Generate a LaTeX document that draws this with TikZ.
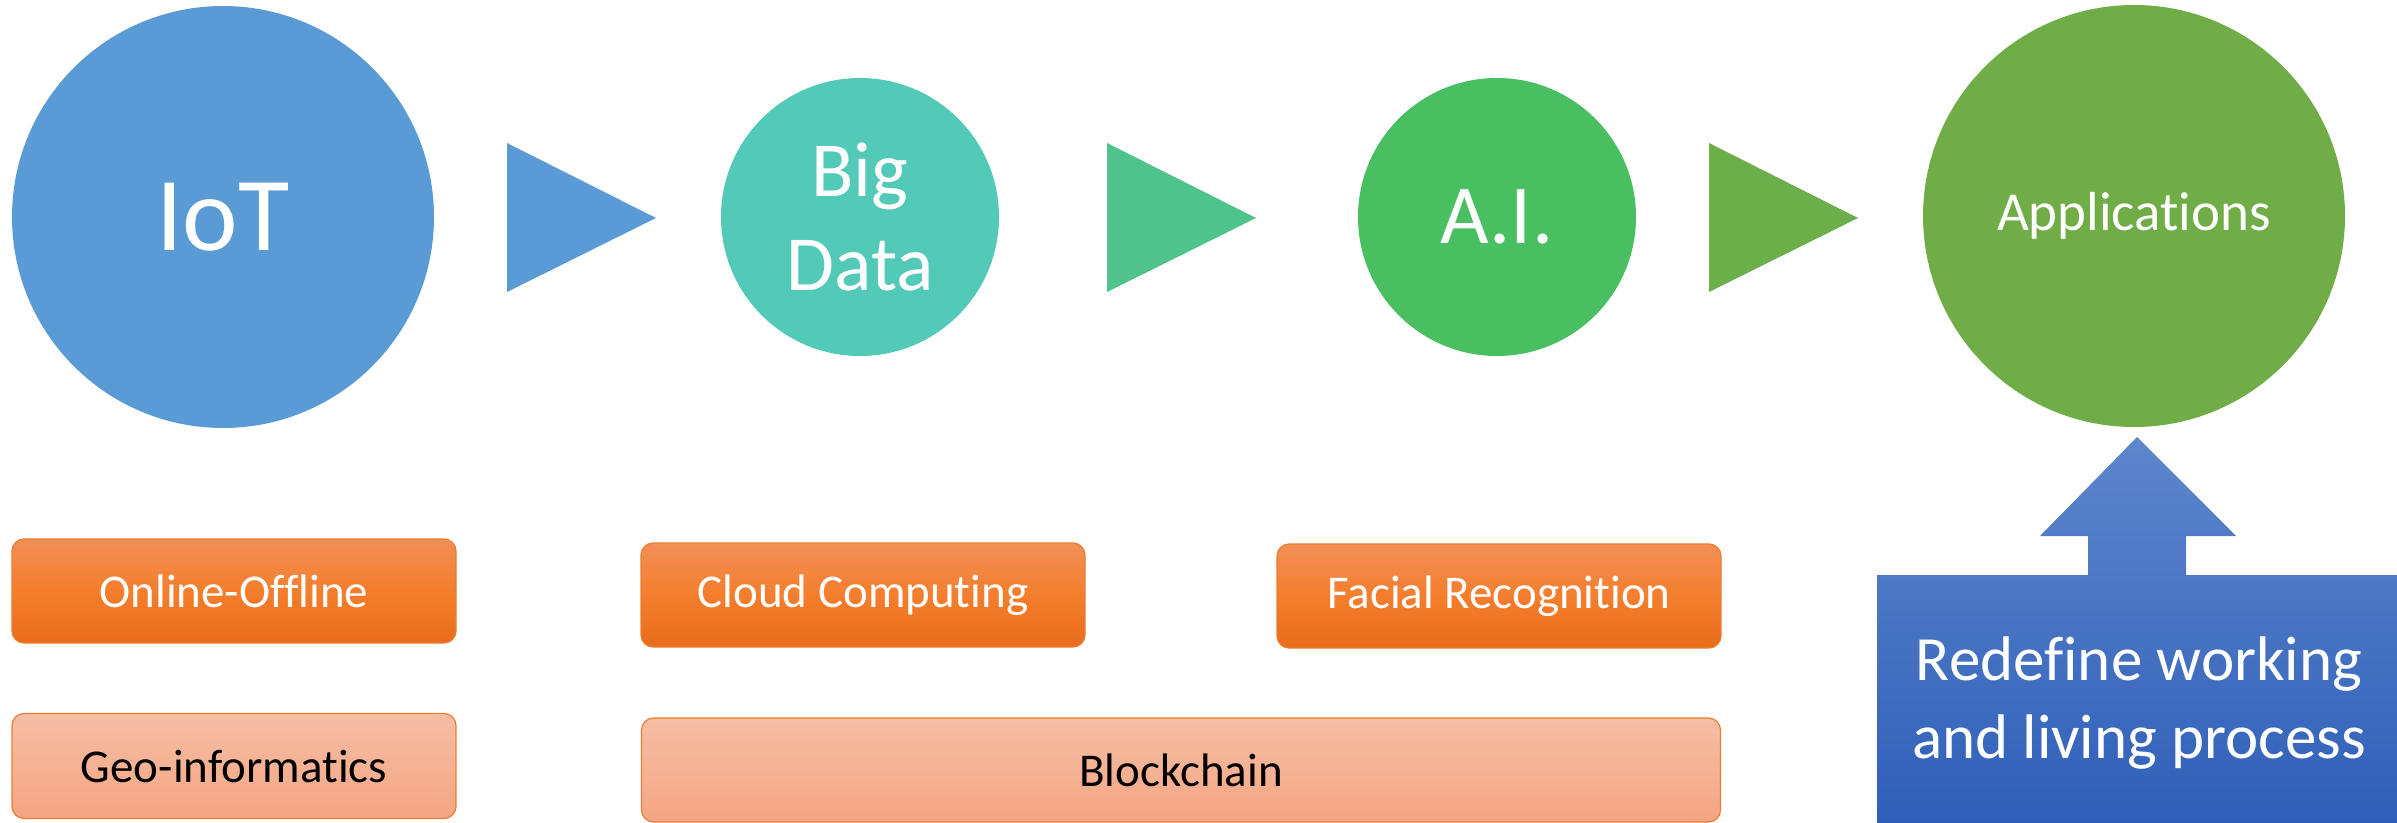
\documentclass[tikz,border=0pt]{standalone}
\usepackage{fontspec}
\setmainfont{Carlito}[Ligatures=NoCommon]
\usepackage{tikz}
\usetikzlibrary{positioning}
\definecolor{iotblue}{HTML}{5B9BD5}
\definecolor{bdteal}{HTML}{53C9B7}
\definecolor{aigreen}{HTML}{49BF62}
\definecolor{appgreen}{HTML}{70AD47}
\definecolor{tritwo}{HTML}{4FC38B}
\definecolor{trithree}{HTML}{6CAE4A}
\definecolor{boxedge}{HTML}{ED7D31}
\definecolor{orgtop}{HTML}{F18F56}
\definecolor{orgmid}{HTML}{F47E2D}
\definecolor{orgbot}{HTML}{E86C1C}
\definecolor{pchtop}{HTML}{F6BEA4}
\definecolor{pchbot}{HTML}{F4A583}
\definecolor{calltop}{HTML}{5E86CC}
\definecolor{callbot}{HTML}{2F5FB8}

\begin{document}
\begin{tikzpicture}[line cap=round,line join=round,x=0.5pt,y=-0.5pt,
    stage/.style={circle,inner sep=0pt,text=white,align=center},
    techbox/.style={rectangle,rounded corners=6pt,draw=boxedge,line width=0.6pt,
      minimum width=222pt,minimum height=52pt,inner sep=0pt,
      font=\fontsize{23.5}{28}\selectfont},
    darkbox/.style={techbox,top color=orgtop,bottom color=orgbot,middle color=orgmid,text=white},
    palebox/.style={techbox,top color=pchtop,bottom color=pchbot,text=black}]
      \useasboundingbox (0,0) rectangle (2397,823);
      % stages
      \node[stage,fill=iotblue,minimum size=211pt,font=\fontsize{52.5}{60}\selectfont] (iot) at (223,217) {IoT};
      \node[stage,fill=bdteal,minimum size=139pt,font=\fontsize{39}{47}\selectfont] (bigdata) at (860,217) {Big\\Data};
      \node[stage,fill=aigreen,minimum size=139pt,font=\fontsize{42}{48}\selectfont] (ai) at (1497,217) {A.I.};
      \node[stage,fill=appgreen,minimum size=211pt,font=\fontsize{27.5}{33}\selectfont] (apps) at (2134,216) {Applications};
      % triangles between the stages
      \foreach \x/\c in {507/iotblue,1107/tritwo,1709/trithree}
      \fill[\c] (\x,143) -- (\x,292) -- (\x+149,218) -- cycle;
      % technologies
      \node[darkbox] (online) at (234,591) {Online-Offline};
      \node[palebox,minimum height=52.5pt] (geo) at (234,766) {Geo-informatics};
      \node[darkbox] (cloud) at (863,595) {Cloud Computing};
      \node[darkbox] (facial) at (1499,596) {Facial Recognition};
      \node[palebox,minimum width=539.5pt] (block) at (1181,770) {Blockchain};
      % callout
      \path[top color=calltop,bottom color=callbot] (1877,575) -- (2088,575) -- (2088,536) -- (2040,536)
        -- (2137,437) -- (2236,536) -- (2186,536) -- (2186,575) -- (2397,575) -- (2397,823) -- (1877,823) -- cycle;
      \node[text=white,align=center,font=\fontsize{31.5}{39}\selectfont] (redefine) at (2139,703) {Redefine working\\and living process};
    \end{tikzpicture}
\end{document}
